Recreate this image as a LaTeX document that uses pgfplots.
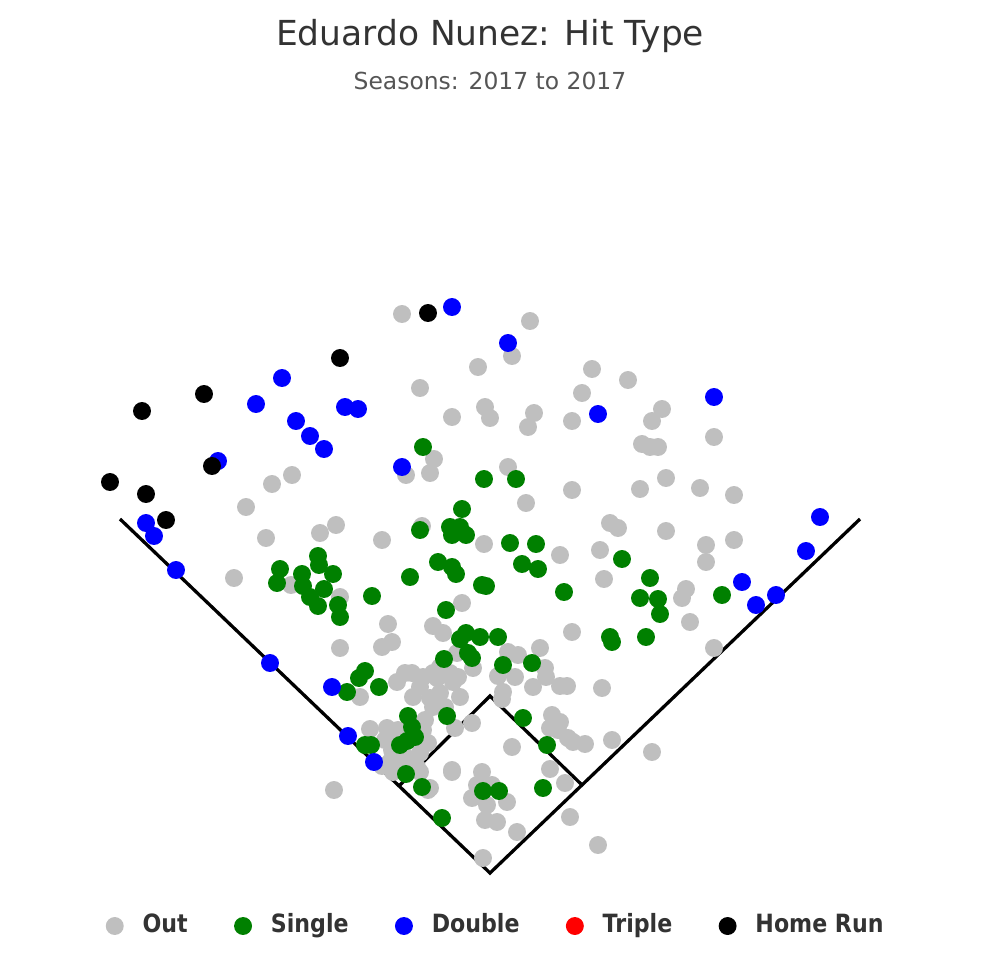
\documentclass[border=0pt]{standalone}
\usepackage{fontspec}
\setmainfont{DejaVu Sans}
\newfontfamily\legfont[FakeStretch=0.88]{DejaVu Sans}
\usepackage{pgfplots}
\pgfplotsset{compat=1.18}
\definecolor{outgray}{HTML}{BFBFBF}
\definecolor{singlegreen}{HTML}{008000}
\definecolor{dblue}{HTML}{0000FF}
\definecolor{tred}{HTML}{FF0000}
\definecolor{titlecol}{HTML}{333333}
\definecolor{subcol}{HTML}{555555}
\begin{document}
\begin{tikzpicture}
\begin{axis}[
  scale only axis, width=10cm, height=10cm,
  xmin=0, xmax=980, ymin=0, ymax=980, y dir=reverse,
  hide axis, clip=false,
  legend columns=5,
  legend image code/.code={\draw[#1,mark repeat=1] plot coordinates {(0cm,0cm)};},
  legend style={at={(axis cs:495,926)}, anchor=center, draw=none, fill=none,
    font=\legfont\fontsize{7.3}{9}\selectfont\bfseries\color{titlecol},
    nodes={inner sep=0pt},
    /tikz/every odd column/.append style={column sep=0.2cm},
    /tikz/every even column/.append style={column sep=0.48cm}},
]
\addplot[black, line width=0.95pt, no marks, forget plot] coordinates {(120,519) (490,873) (860,519)};
\addplot[black, line width=0.95pt, no marks, forget plot] coordinates {(399,786) (490,696) (581,784)};
% Out
\addplot[only marks, mark=*, mark size=2.4pt, color=outgray] table {
x y
402 314
530 321
512 356
478 367
592 369
628 380
420 388
582 393
485 407
490 418
452 417
534 413
528 427
572 421
662 409
652 421
642 444
650 447
658 447
714 437
434 459
430 473
406 475
508 467
292 475
272 484
526 503
572 490
640 489
666 478
700 488
734 495
246 507
336 525
320 533
266 538
382 540
422 526
484 544
560 555
610 523
618 528
666 531
600 550
604 579
706 545
734 540
706 562
686 589
682 598
690 622
714 648
234 578
291 585
340 597
462 603
388 624
433 626
443 633
392 642
382 647
340 648
572 632
540 648
508 652
518 655
457 653
473 668
498 676
515 677
545 668
546 677
533 687
560 686
567 686
602 688
503 692
502 699
360 697
397 682
405 673
412 673
423 677
433 673
440 667
450 673
458 677
437 678
453 682
440 693
420 687
413 697
430 698
460 697
445 707
433 707
425 720
423 730
472 723
455 728
370 729
387 728
398 730
385 740
390 737
428 743
420 753
417 767
393 753
390 762
393 772
407 758
392 750
397 760
413 763
420 772
430 788
382 766
452 770
512 747
552 715
560 722
550 728
558 730
568 738
585 744
573 742
612 740
452 772
482 772
477 785
492 785
472 798
487 805
507 802
485 820
497 822
517 832
483 858
550 769
565 783
570 817
598 845
652 752
334 790
428 790
};
% Single
\addplot[only marks, mark=*, mark size=2.4pt, color=singlegreen] table {
x y
423 447
484 479
516 479
462 509
420 530
450 527
460 527
452 535
466 535
510 543
536 544
522 564
538 569
438 562
452 567
456 574
410 577
482 585
486 586
564 592
622 559
650 578
640 598
658 599
660 614
722 595
446 610
466 633
460 639
480 637
498 637
610 637
612 642
646 637
444 659
468 653
472 658
503 665
532 663
280 569
277 583
302 574
303 586
318 556
319 565
333 574
324 589
310 597
318 606
338 605
340 617
372 596
365 671
359 678
379 687
347 692
408 716
447 716
412 727
415 737
407 741
400 745
365 745
371 745
523 718
547 745
406 774
422 787
483 791
499 791
543 788
442 818
};
% Double
\addplot[only marks, mark=*, mark size=2.4pt, color=dblue] table {
x y
452 307
508 343
282 378
256 404
345 407
358 409
296 421
310 436
324 449
218 461
402 467
598 414
714 397
146 523
154 536
176 570
820 517
806 551
742 582
776 595
756 605
270 663
332 687
348 736
374 762
};
\addlegendimage{only marks, mark=*, mark size=2.4pt, color=tred}
% Home Run
\addplot[only marks, mark=*, mark size=2.4pt, color=black] table {
x y
428 313
340 358
204 394
142 411
212 466
110 482
146 494
166 520
};
\legend{Out,Single,Double,Triple,Home Run}
\node[text=titlecol, font=\fontsize{10}{12}\selectfont] at (axis cs:490,36) {Eduardo Nunez: Hit Type};
\node[text=subcol, font=\fontsize{6.8}{8}\selectfont] at (axis cs:490,81) {Seasons: 2017 to 2017};
\coordinate (ll) at (axis cs:0,980);
\coordinate (ur) at (axis cs:980,0);
\end{axis}
\pgfresetboundingbox
\path (ll) rectangle (ur);
\end{tikzpicture}
\end{document}
